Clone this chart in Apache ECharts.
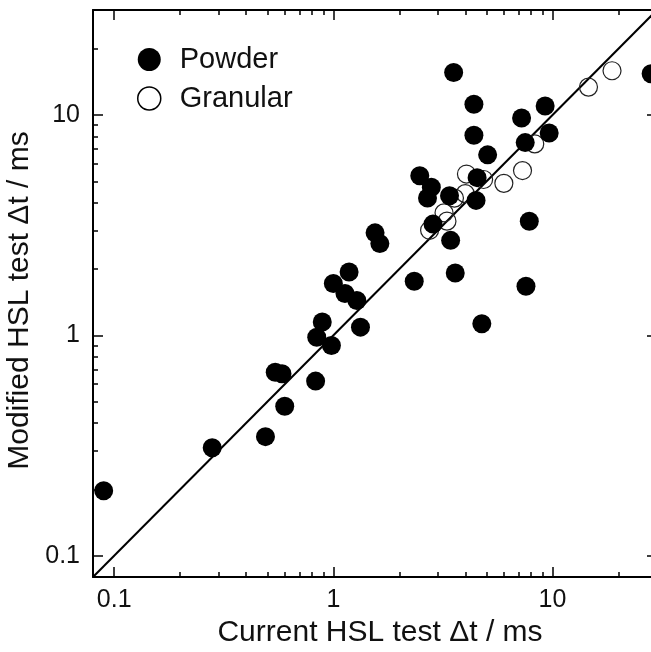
<!DOCTYPE html>
<html>
<head>
<meta charset="utf-8">
<script src="https://cdn.jsdelivr.net/npm/echarts@6/dist/echarts.min.js"></script>
<style>
  html, body { margin: 0; padding: 0; background: #fff; }
  #chart-holder { width: 651px; height: 652px; }
</style>
</head>
<body>
<div id="chart-holder"></div>
<script>
// Values (log-log plot)
var powderX = [3.54, 4.38, 4.38, 5.06, 7.23, 9.26, 9.66, 7.51, 4.53, 2.48, 2.80, 2.69, 3.39,
  4.48, 2.85, 3.43, 7.84, 3.60, 2.34, 7.57, 28.2, 4.76, 1.33, 1.55, 1.63, 1.18, 1.0, 1.13,
  1.28, 0.89, 0.84, 0.98, 0.543, 0.583, 0.83, 0.60, 0.49, 0.28, 0.0895];
var powderY = [15.6, 11.2, 8.1, 6.6, 9.7, 11.0, 8.3, 7.5, 5.2, 5.3, 4.7, 4.2, 4.3,
  4.1, 3.2, 2.7, 3.3, 1.92, 1.76, 1.67, 15.4, 1.13, 1.09, 2.92, 2.61, 1.94, 1.72, 1.55,
  1.44, 1.15, 0.98, 0.90, 0.68, 0.67, 0.62, 0.477, 0.347, 0.309, 0.197];

var granularX = [18.7, 14.6, 8.3, 7.3, 6.0, 4.05, 4.85, 4.0, 3.57, 3.2, 3.3, 2.75];
var granularY = [15.9, 13.4, 7.4, 5.6, 4.9, 5.4, 5.1, 4.4, 4.2, 3.6, 3.3, 3.0];

// 1:1 reference line
var parityLine = [0.08, 30];

var majorTicks = [0.1, 1, 10];
var minorTicks = [0.2, 0.3, 0.4, 0.5, 0.6, 0.7, 0.8, 0.9, 2, 3, 4, 5, 6, 7, 8, 9, 20];

var axisMin = 0.08;
var axisMax = 30;
var fontName = 'Liberation Sans';

function zip(xs, ys) {
  return xs.map(function (x, i) { return [x, ys[i]]; });
}

// one log axis; major/minor and the mirrored sides are separate axes
function makeAxis(position, ticks, tickLen, opts) {
  var ax = {
    type: 'log',
    logBase: 10,
    min: axisMin,
    max: axisMax,
    position: position,
    splitLine: { show: false },
    axisLine: { show: !!opts.line, lineStyle: { color: '#000', width: 2 } },
    axisTick: {
      show: true,
      inside: true,
      length: tickLen,
      customValues: ticks,
      lineStyle: { color: '#000', width: 1.5 }
    },
    axisLabel: { show: false },
    axisPointer: { show: false }
  };
  if (opts.labels) {
    ax.axisLabel = {
      show: true,
      customValues: ticks,
      fontFamily: fontName,
      fontSize: 25,
      color: '#111',
      margin: opts.margin,
      formatter: function (v) { return String(+v.toPrecision(3)); }
    };
  }
  if (opts.name) {
    ax.name = opts.name;
    ax.nameLocation = 'middle';
    ax.nameGap = opts.nameGap;
    ax.nameTextStyle = {
      fontFamily: fontName,
      fontSize: 30,
      color: '#111',
      padding: opts.namePadding
    };
  }
  return ax;
}

var dom = document.getElementById('chart-holder');
var myChart = echarts.init(dom, null, { renderer: 'canvas' });

var option = {
  backgroundColor: '#fff',
  animation: false,
  grid: {
    left: 93,
    top: 10,
    width: 564,
    height: 567,
    outerBoundsMode: 'none',
    containLabel: false
  },
  legend: {
    orient: 'vertical',
    left: 132,
    top: 40,
    itemWidth: 23,
    itemHeight: 23,
    itemGap: 10,
    icon: 'circle',
    textStyle: {
      fontFamily: fontName,
      fontSize: 29,
      color: '#111',
      padding: [0, 0, 0, 14]
    },
    data: [
      { name: 'Powder', itemStyle: { color: '#000' } },
      { name: 'Granular', itemStyle: { color: '#fff', borderColor: '#000', borderWidth: 1.5 } }
    ]
  },
  xAxis: [
    makeAxis('bottom', majorTicks, 10, {
      line: true, labels: true, margin: 11,
      name: 'Current HSL test \u0394t / ms', nameGap: 40, namePadding: [0, 0, 0, 10]
    }),
    makeAxis('bottom', minorTicks, 5, {}),
    makeAxis('top', majorTicks, 10, { line: true }),
    makeAxis('top', minorTicks, 5, {})
  ],
  yAxis: [
    makeAxis('left', majorTicks, 10, {
      line: true, labels: true, margin: 13,
      name: 'Modified HSL test \u0394t / ms', nameGap: 52, namePadding: [0, 14, 0, 0]
    }),
    makeAxis('left', minorTicks, 5, {}),
    makeAxis('right', majorTicks, 10, { line: true }),
    makeAxis('right', minorTicks, 5, {})
  ],
  series: [
    {
      type: 'line',
      name: 'parity',
      data: zip(parityLine, parityLine),
      symbol: 'none',
      silent: true,
      z: 1,
      lineStyle: { color: '#000', width: 2 }
    },
    {
      type: 'scatter',
      name: 'Granular',
      data: zip(granularX, granularY),
      symbolSize: 18,
      z: 2,
      itemStyle: { color: 'rgba(255,255,255,0)', borderColor: '#222', borderWidth: 1.2, opacity: 1 }
    },
    {
      type: 'scatter',
      name: 'Powder',
      data: zip(powderX, powderY),
      symbolSize: 19,
      z: 3,
      itemStyle: { color: '#000', opacity: 1 }
    }
  ]
};

myChart.setOption(option);
</script>
</body>
</html>
